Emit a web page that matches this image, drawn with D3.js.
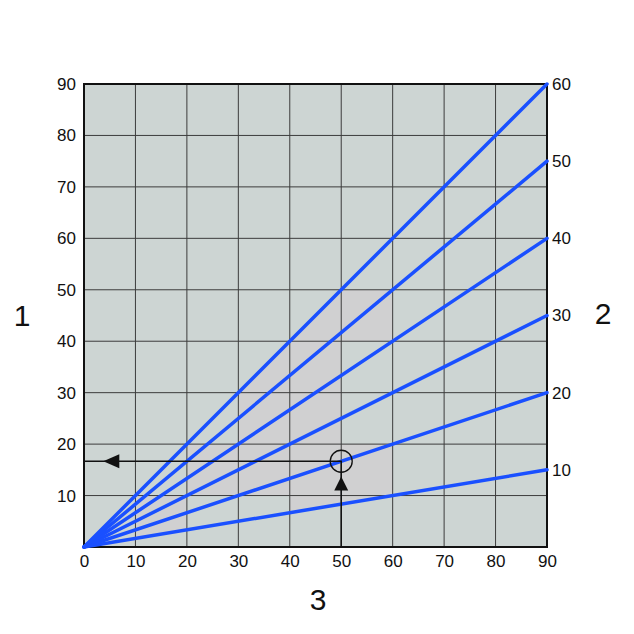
<!DOCTYPE html>
<html>
<head>
<meta charset="utf-8" />
<title>Nomogram</title>
<script src="https://cdn.jsdelivr.net/npm/d3@7"></script>
<style>
  body { margin: 0; background: #fff; }
  text { font-family: "Liberation Sans", Arial, sans-serif; fill: #111; }
</style>
</head>
<body>
<div id="chart"></div>
<script>
// axis ticks
var bottomTicks = [0, 10, 20, 30, 40, 50, 60, 70, 80, 90];
var leftTicks = [10, 20, 30, 40, 50, 60, 70, 80, 90];
var rightTicks = [10, 20, 30, 40, 50, 60];
// fan of lines, labelled by right axis value
var lineValues = [10, 20, 30, 40, 50, 60];
// worked example: read at x = 50 on the "20" line
var readX = 50;
var readLine = 20;
// faint tinted cells (lower-left corner, left axis units)
var tintCells = [[10, 0], [40, 0], [50, 0],
  [20, 10], [30, 10], [40, 10], [50, 10],
  [30, 20], [40, 20],
  [30, 30], [40, 30], [40, 40], [50, 40]];
var axisNames = ["1", "2", "3"];

var W = 634, H = 634;
var x = d3.scaleLinear().domain([0, 90]).range([84, 547]);
var yL = d3.scaleLinear().domain([0, 90]).range([547, 84]);
var yR = d3.scaleLinear().domain([0, 60]).range([547, 84]);

var svg = d3.select("#chart").append("svg")
  .attr("width", W).attr("height", H);

svg.append("rect")
  .attr("x", x(0)).attr("y", yL(90))
  .attr("width", x(90) - x(0)).attr("height", yL(0) - yL(90))
  .attr("fill", "#cdd5d3");

// tinted cells, kept inside the wedge between the outer lines
var lo = d3.min(lineValues), hi = d3.max(lineValues);
svg.append("clipPath").attr("id", "wedge")
  .append("path")
  .attr("d", "M" + x(0) + "," + yR(0) + "L" + x(90) + "," + yR(hi) +
    "L" + x(90) + "," + yR(lo) + "Z");

svg.append("g").attr("clip-path", "url(#wedge)")
  .selectAll("rect").data(tintCells).enter().append("rect")
  .attr("x", function (d) { return x(d[0]); })
  .attr("y", function (d) { return yL(d[1] + 10); })
  .attr("width", x(10) - x(0))
  .attr("height", yL(0) - yL(10))
  .attr("fill", "#d0d0d1");

// grid
var grid = svg.append("g");
grid.selectAll("line.v").data(bottomTicks).enter().append("line")
  .attr("x1", function (d) { return x(d); }).attr("x2", function (d) { return x(d); })
  .attr("y1", yL(0)).attr("y2", yL(90))
  .attr("stroke", "#3c3c3c").attr("stroke-width", 1);
grid.selectAll("line.h").data(leftTicks).enter().append("line")
  .attr("y1", function (d) { return yL(d); }).attr("y2", function (d) { return yL(d); })
  .attr("x1", x(0)).attr("x2", x(90))
  .attr("stroke", "#3c3c3c").attr("stroke-width", 1);

svg.append("rect")
  .attr("x", x(0)).attr("y", yL(90))
  .attr("width", x(90) - x(0)).attr("height", yL(0) - yL(90))
  .attr("fill", "none").attr("stroke", "#111").attr("stroke-width", 2);

// tick labels
var axL = d3.axisLeft(yL).tickValues(leftTicks).tickSize(0).tickPadding(8);
var axR = d3.axisRight(yR).tickValues(rightTicks).tickSize(0).tickPadding(5);
var axB = d3.axisBottom(x).tickValues(bottomTicks).tickSize(0).tickPadding(8);
[[axL, "translate(" + x(0) + ",0)"], [axR, "translate(" + x(90) + ",0)"],
 [axB, "translate(0," + yL(0) + ")"]].forEach(function (a) {
  var g = svg.append("g").attr("transform", a[1]).call(a[0]);
  g.attr("font-size", 17).attr("font-family", "'Liberation Sans', Arial, sans-serif");
  g.select(".domain").remove();
  g.selectAll("text").style("font-size", "17px").attr("fill", "#111");
});

// fan lines
svg.append("g").selectAll("line").data(lineValues).enter().append("line")
  .attr("x1", x(0)).attr("y1", yR(0))
  .attr("x2", x(90)).attr("y2", function (d) { return yR(d); })
  .attr("stroke", "#1a50ff").attr("stroke-width", 3.5)
  .attr("stroke-linecap", "round");

// reading path
var readY = yR(readLine * readX / 90);
svg.append("path")
  .attr("d", "M" + x(readX) + "," + yL(0) + "V" + readY + "H" + x(0))
  .attr("fill", "none").attr("stroke", "#111").attr("stroke-width", 1.5);
svg.append("circle")
  .attr("cx", x(readX)).attr("cy", readY).attr("r", 11)
  .attr("fill", "none").attr("stroke", "#111").attr("stroke-width", 1.3);

// arrow heads
var up = yL(13.7);
svg.append("path")
  .attr("d", "M" + x(readX) + "," + up + "l-7,14h14z").attr("fill", "#111");
var left = x(3.75);
svg.append("path")
  .attr("d", "M" + left + "," + readY + "l16,-7v14z").attr("fill", "#111");

// axis numbers
svg.append("text").attr("x", 22).attr("y", 318).attr("text-anchor", "middle")
  .attr("dominant-baseline", "middle").attr("font-size", 30).text(axisNames[0]);
svg.append("text").attr("x", 603).attr("y", 316).attr("text-anchor", "middle")
  .attr("dominant-baseline", "middle").attr("font-size", 30).text(axisNames[1]);
svg.append("text").attr("x", 318).attr("y", 602).attr("text-anchor", "middle")
  .attr("dominant-baseline", "middle").attr("font-size", 30).text(axisNames[2]);
</script>
</body>
</html>
